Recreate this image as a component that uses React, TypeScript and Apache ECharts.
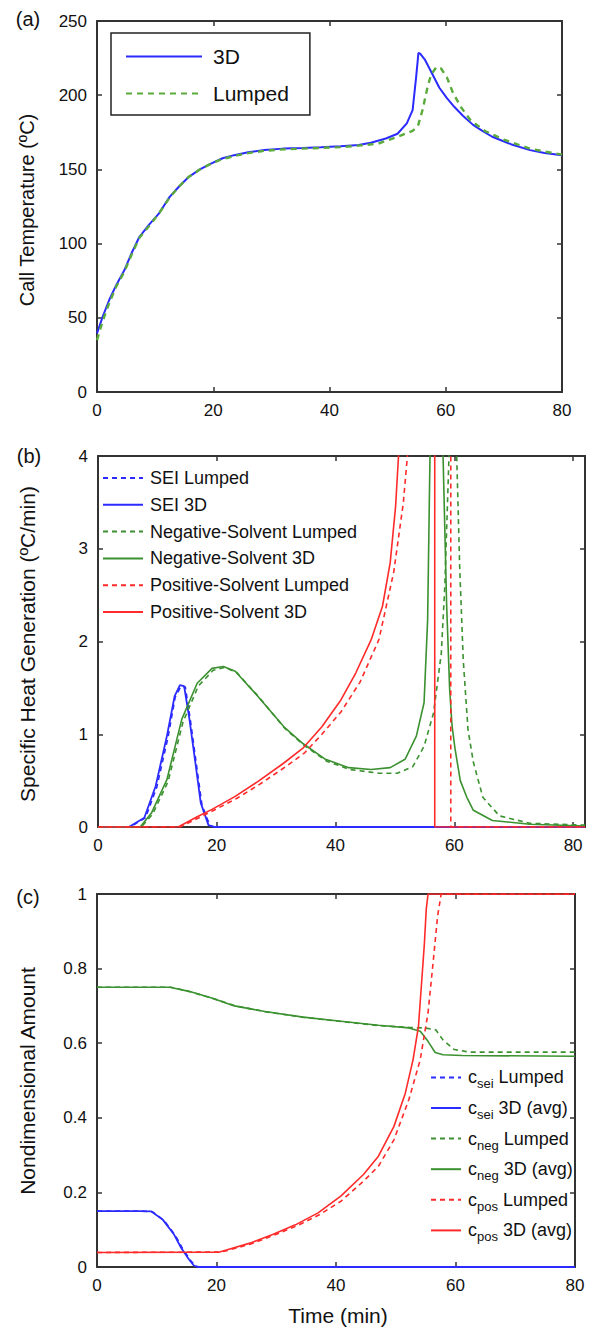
import React, { useEffect, useRef } from 'react';
import * as echarts from 'echarts';

// ---------- Panel (a): cell temperature ----------
const tA3D = [0, 1, 2.1, 3.3, 4.7, 6, 7.3, 9, 10.6, 12.5, 14, 15.8, 17.7, 19.7, 21.6, 23.6, 26, 28.8, 32, 35.4, 38.5, 41.9, 45, 47.1, 49.7, 51.7, 53.3, 54.3, 54.9, 55.3, 55.6, 56.4, 57.2, 58.9, 60.2, 61.5, 63, 64.7, 66.3, 68, 71.2, 74.5, 77, 80];
const vA3D = [39.5, 51, 62, 72, 82, 94, 104.6, 113, 120, 131.5, 138, 145, 150, 154, 157.5, 159.6, 161.5, 163, 164, 164.5, 165, 165.6, 166.5, 167.9, 170.8, 174, 181, 190, 212, 228.5, 228, 224, 218, 205, 198, 192, 186, 180, 176, 172, 167, 163, 161, 159.6];
const tALump = [0, 1, 2.1, 3.3, 4.7, 6, 7.3, 9, 10.6, 12.5, 14, 15.8, 17.7, 19.7, 21.6, 23.6, 26, 28.8, 32, 35.4, 38.5, 41.9, 45, 48.4, 51.7, 54.3, 55.2, 56, 56.9, 57.5, 58.4, 59.2, 60.2, 61.2, 62.6, 64.3, 66.7, 70, 74.5, 77, 80];
const vALump = [35, 48, 60, 71, 81, 93, 104, 112, 120, 131, 138, 145, 150, 154, 157, 159, 161, 162.5, 163.5, 164, 164.5, 165, 166, 167.4, 172, 176, 179, 190, 206, 214, 219, 218, 212, 202, 192, 183, 176, 170, 164, 162, 160];

// ---------- Panel (b): specific heat generation ----------
const tSeiLump = [0, 5.4, 8, 9.9, 11.8, 13, 14, 14.7, 15.6, 16.6, 17.5, 18.8, 19.7, 27];
const vSeiLump = [0, 0, 0.1, 0.43, 0.97, 1.4, 1.52, 1.51, 1.13, 0.66, 0.24, 0.02, 0, 0];
const tSei3D = [0, 5.2, 7.8, 9.7, 11.6, 12.9, 13.8, 14.5, 15.4, 16.4, 17.3, 18.6, 19.5, 82];
const vSei3D = [0, 0, 0.1, 0.44, 0.98, 1.41, 1.53, 1.52, 1.16, 0.69, 0.26, 0.02, 0, 0];
const tNegLump = [0, 7.3, 9.2, 11.8, 14.3, 16.9, 19.4, 21.3, 23.3, 27.1, 31.5, 34.7, 38.5, 42.4, 47.3, 50.4, 53, 54.9, 56.5, 57.8, 58.4, 59.1, 59.7, 60.4, 60.9, 61.5, 62.3, 63.2, 64.8, 67.6, 72.7, 82];
const vNegLump = [0, 0, 0.14, 0.49, 1.13, 1.52, 1.69, 1.72, 1.67, 1.4, 1.06, 0.88, 0.71, 0.62, 0.58, 0.58, 0.65, 0.87, 1.23, 1.87, 2.6, 4.0, 7, 4.0, 2.8, 1.8, 1.05, 0.7, 0.32, 0.12, 0.04, 0.02];
const tNeg3D = [0, 7.1, 9, 11.6, 14.1, 16.7, 19.2, 21.1, 23.1, 26.9, 31.3, 34.5, 38.3, 42.2, 46, 49.2, 51.7, 53.6, 54.9, 55.5, 55.9, 56.5, 57.5, 58.1, 58.4, 58.7, 59.2, 59.6, 60.1, 61, 62.1, 63.2, 66.4, 72.7, 82];
const vNeg3D = [0, 0, 0.15, 0.51, 1.16, 1.55, 1.71, 1.73, 1.68, 1.41, 1.08, 0.9, 0.73, 0.64, 0.62, 0.64, 0.73, 0.98, 1.34, 2.23, 4.0, 7, 7, 4.0, 3.2, 2.4, 1.5, 1.1, 0.85, 0.5, 0.32, 0.18, 0.07, 0.03, 0.01];
const tPosLump = [0, 13.8, 17, 19.5, 23.4, 27.2, 31.6, 34.8, 37.7, 40.9, 44.1, 47.3, 49.8, 51.4, 52.1, 54, 56, 59.4, 59.4, 82];
const vPosLump = [0, 0, 0.1, 0.18, 0.31, 0.46, 0.65, 0.8, 1.0, 1.24, 1.56, 2.02, 2.75, 3.49, 4.0, 6, 9, 15, 0, 0];
const tPos3D = [0, 13.5, 16.7, 19.2, 23.1, 26.9, 31.3, 34.5, 37.7, 40.9, 43.4, 46, 47.9, 49.2, 50.1, 50.6, 52, 54, 56.7, 56.7, 82];
const vPos3D = [0, 0, 0.11, 0.19, 0.33, 0.49, 0.69, 0.85, 1.08, 1.37, 1.66, 2.02, 2.38, 2.85, 3.45, 4.0, 5.5, 9, 15, 0, 0];

// ---------- Panel (c): nondimensional amount ----------
const tCseiLump = [0, 7.4, 9.3, 11.2, 13.1, 14.3, 15.6, 16.4, 17, 25.5];
const vCseiLump = [0.15, 0.15, 0.148, 0.125, 0.085, 0.05, 0.019, 0.004, 0, 0];
const tCsei3D = [0, 7.2, 9.1, 11, 12.9, 14.1, 15.4, 16.2, 16.8, 80];
const vCsei3D = [0.15, 0.15, 0.149, 0.127, 0.087, 0.051, 0.02, 0.004, 0, 0];
const tCnegLump = [0, 12.4, 15.6, 19.4, 23.2, 28.3, 34.7, 41, 47.3, 52.4, 54.8, 56.7, 57.9, 59.8, 62.4, 80];
const vCnegLump = [0.75, 0.75, 0.738, 0.72, 0.7, 0.684, 0.669, 0.658, 0.647, 0.642, 0.641, 0.636, 0.609, 0.583, 0.576, 0.576];
const tCneg3D = [0, 12.2, 15.4, 19.2, 23, 28.1, 34.5, 40.8, 47.1, 52.2, 54.1, 55.4, 56.6, 57.9, 61.1, 80];
const vCneg3D = [0.75, 0.75, 0.739, 0.721, 0.7, 0.685, 0.67, 0.659, 0.648, 0.641, 0.632, 0.605, 0.575, 0.569, 0.567, 0.565];
const tCposLump = [0, 20.7, 22, 25.8, 29.6, 33.4, 37.2, 40.8, 44.6, 47.1, 49.7, 52.2, 54.1, 55.4, 56.3, 57, 57.6, 80];
const vCposLump = [0.039, 0.04, 0.045, 0.062, 0.085, 0.11, 0.14, 0.176, 0.23, 0.27, 0.341, 0.449, 0.556, 0.681, 0.824, 0.94, 1.0, 1.0];
const tCpos3D = [0, 20.5, 21.8, 25.6, 29.4, 33.2, 37, 40.8, 44.6, 47.1, 49.7, 51.6, 52.9, 53.8, 54.4, 54.8, 55.1, 55.4, 80];
const vCpos3D = [0.039, 0.04, 0.046, 0.064, 0.087, 0.113, 0.145, 0.19, 0.248, 0.297, 0.377, 0.466, 0.556, 0.645, 0.779, 0.869, 0.958, 1.0, 1.0];

const legendA = ['3D', 'Lumped'];
const legendB = ['SEI Lumped', 'SEI 3D', 'Negative-Solvent Lumped', 'Negative-Solvent 3D', 'Positive-Solvent Lumped', 'Positive-Solvent 3D'];
const legendC = ['c_sei Lumped', 'c_sei 3D (avg)', 'c_neg Lumped', 'c_neg 3D (avg)', 'c_pos Lumped', 'c_pos 3D (avg)'];

const FONT = "'Liberation Sans', Arial, Helvetica, sans-serif";
const BLUE = '#2b2bff';
const GREEN_A = '#5aab3c';
const GREEN = '#3b9130';
const RED = '#ff2a2a';
const FRAME = '#333333';

const pairs = (t: number[], v: number[]) => t.map((x, i) => [x, v[i]]);

function makeAxes(g: number, xmin: number, xmax: number, xint: number, ymin: number, ymax: number, yint: number, xFmt?: (v: number) => string) {
  const line = { show: true, onZero: false, lineStyle: { color: FRAME, width: 2 } };
  const tick = { show: true, inside: true, length: 5, lineStyle: { color: FRAME, width: 1.5 } };
  const label = { color: '#111', fontSize: 17, fontFamily: FONT, margin: 10 };
  const x = [
    { type: 'value', gridIndex: g, min: xmin, max: xmax, interval: xint, position: 'bottom', axisLine: line, axisTick: tick, splitLine: { show: false }, axisLabel: { ...label, formatter: xFmt } },
    { type: 'value', gridIndex: g, min: xmin, max: xmax, interval: xint, position: 'top', axisLine: line, axisTick: tick, splitLine: { show: false }, axisLabel: { show: false } },
  ];
  const y = [
    { type: 'value', gridIndex: g, min: ymin, max: ymax, interval: yint, position: 'left', axisLine: line, axisTick: tick, splitLine: { show: false }, axisLabel: label },
    { type: 'value', gridIndex: g, min: ymin, max: ymax, interval: yint, position: 'right', axisLine: line, axisTick: tick, splitLine: { show: false }, axisLabel: { show: false } },
  ];
  return { x, y };
}

function ser(name: string, g: number, t: number[], v: number[], color: string, width: number, dash: number[] | null) {
  return {
    name,
    type: 'line',
    xAxisIndex: 2 * g,
    yAxisIndex: 2 * g,
    data: pairs(t, v),
    symbol: 'none',
    showSymbol: false,
    clip: true,
    lineStyle: { color, width, type: dash ? dash : 'solid' },
    itemStyle: { color },
    emphasis: { disabled: true },
  };
}

const hideSym = { color: 'transparent', borderColor: 'transparent', borderWidth: 0 };

export default function App() {
  const ref = useRef<HTMLDivElement>(null);
  useEffect(() => {
    const chart = echarts.init(ref.current!, null, { renderer: 'svg' });
    const a = makeAxes(0, 0, 80, 20, 0, 250, 50);
    const b = makeAxes(1, 0, 82, 20, 0, 4, 1, (v: number) => (v % 20 === 0 ? String(v) : ''));
    const c = makeAxes(2, 0, 80, 20, 0, 1, 0.2);

    const option: any = {
      animation: false,
      backgroundColor: '#ffffff',
      grid: [
        { left: 97, top: 21, width: 465, height: 371 },
        { left: 98, top: 456, width: 487, height: 371 },
        { left: 97, top: 894, width: 478, height: 373 },
      ],
      xAxis: [...a.x, ...b.x, ...c.x],
      yAxis: [...a.y, ...b.y, ...c.y],
      legend: [
        {
          data: legendA, orient: 'vertical', left: 111, top: 33, padding: [13, 21, 11, 14],
          itemWidth: 76, itemHeight: 20, itemGap: 16, selectedMode: false,
          borderColor: '#222', borderWidth: 1.5, itemStyle: hideSym,
          textStyle: { fontSize: 21, lineHeight: 20, fontFamily: FONT, color: '#111', padding: [0, 0, 0, 6] },
        },
        {
          data: legendB, orient: 'vertical', left: 102, top: 469, padding: 0,
          itemWidth: 40, itemHeight: 18, itemGap: 8.8, selectedMode: false, itemStyle: hideSym,
          textStyle: { fontSize: 18, lineHeight: 18, fontFamily: FONT, color: '#111', padding: [0, 0, 0, 2] },
        },
        {
          data: legendC, orient: 'vertical', left: 430, top: 1067, padding: 0,
          itemWidth: 30, itemHeight: 26, itemGap: 7.2, selectedMode: false, itemStyle: hideSym,
          formatter: (name: string) => name.replace(/^c_(\w+) (.*)$/, '{n|c}{s|$1}{n| $2}'),
          textStyle: {
            fontSize: 18, fontFamily: FONT, color: '#111', padding: [0, 0, 0, 2],
            rich: {
              n: { fontSize: 18, lineHeight: 26, fontFamily: FONT, color: '#111' },
              s: { fontSize: 13, lineHeight: 10, verticalAlign: 'bottom', fontFamily: FONT, color: '#111' },
            },
          },
        },
      ],
      series: [
        ser('3D', 0, tA3D, vA3D, BLUE, 2, null),
        ser('Lumped', 0, tALump, vALump, GREEN_A, 2.4, [6, 5]),

        ser('SEI Lumped', 1, tSeiLump, vSeiLump, BLUE, 1.6, [5, 4]),
        ser('SEI 3D', 1, tSei3D, vSei3D, BLUE, 1.8, null),
        ser('Negative-Solvent Lumped', 1, tNegLump, vNegLump, GREEN, 1.6, [5, 4]),
        ser('Negative-Solvent 3D', 1, tNeg3D, vNeg3D, GREEN, 1.6, null),
        ser('Positive-Solvent Lumped', 1, tPosLump, vPosLump, RED, 1.6, [5, 4]),
        ser('Positive-Solvent 3D', 1, tPos3D, vPos3D, RED, 1.6, null),

        ser('c_sei Lumped', 2, tCseiLump, vCseiLump, BLUE, 1.6, [5, 4]),
        ser('c_sei 3D (avg)', 2, tCsei3D, vCsei3D, BLUE, 1.8, null),
        ser('c_neg Lumped', 2, tCnegLump, vCnegLump, GREEN, 1.6, [5, 4]),
        ser('c_neg 3D (avg)', 2, tCneg3D, vCneg3D, GREEN, 1.6, null),
        ser('c_pos Lumped', 2, tCposLump, vCposLump, RED, 1.6, [5, 4]),
        ser('c_pos 3D (avg)', 2, tCpos3D, vCpos3D, RED, 1.6, null),
      ],
      graphic: [
        { type: 'text', x: 28, y: 19, style: { text: '(a)', fontSize: 20, fontFamily: FONT, fill: '#111', align: 'center', verticalAlign: 'middle' } },
        { type: 'text', x: 29, y: 456, style: { text: '(b)', fontSize: 20, fontFamily: FONT, fill: '#111', align: 'center', verticalAlign: 'middle' } },
        { type: 'text', x: 28, y: 897, style: { text: '(c)', fontSize: 20, fontFamily: FONT, fill: '#111', align: 'center', verticalAlign: 'middle' } },
        { type: 'text', x: 27, y: 210, rotation: Math.PI / 2, style: { text: 'Call Temperature (ºC)', fontSize: 20, fontFamily: FONT, fill: '#111', align: 'center', verticalAlign: 'middle' } },
        { type: 'text', x: 27, y: 644, rotation: Math.PI / 2, style: { text: 'Specific Heat Generation (ºC/min)', fontSize: 21, fontFamily: FONT, fill: '#111', align: 'center', verticalAlign: 'middle' } },
        { type: 'text', x: 27, y: 1081, rotation: Math.PI / 2, style: { text: 'Nondimensional Amount', fontSize: 21, fontFamily: FONT, fill: '#111', align: 'center', verticalAlign: 'middle' } },
        { type: 'text', x: 338, y: 1315, style: { text: 'Time (min)', fontSize: 21, fontFamily: FONT, fill: '#111', align: 'center', verticalAlign: 'middle' } },
      ],
    };
    chart.setOption(option);
    return () => chart.dispose();
  }, []);
  return <div ref={ref} style={{ position: 'absolute', left: 0, top: 0, width: 591, height: 1327, background: '#fff' }} />;
}
